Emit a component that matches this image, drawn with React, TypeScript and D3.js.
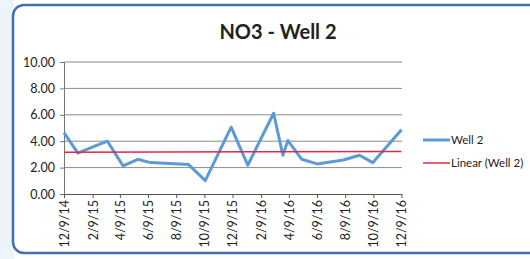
import React, { useRef, useEffect } from "react";
import * as d3 from "d3";

// sample dates and NO3 values
const sampleDates = [
  "2014-12-09", "2015-01-08", "2015-02-15", "2015-03-13", "2015-04-16",
  "2015-05-18", "2015-06-14", "2015-09-05", "2015-10-11", "2015-12-06",
  "2016-01-11", "2016-03-07", "2016-03-27", "2016-04-07", "2016-05-07",
  "2016-06-09", "2016-08-05", "2016-09-09", "2016-10-08", "2016-12-09",
];
const well2 = [
  4.65, 3.09, 3.64, 4.0, 2.13, 2.63, 2.38, 2.23, 1.01, 5.06,
  2.18, 6.12, 2.94, 4.05, 2.63, 2.28, 2.58, 2.94, 2.38, 4.86,
];
const yTicks = [0, 2, 4, 6, 8, 10];
const xTickLabels = [
  "12/9/14", "2/9/15", "4/9/15", "6/9/15", "8/9/15", "10/9/15", "12/9/15",
  "2/9/16", "4/9/16", "6/9/16", "8/9/16", "10/9/16", "12/9/16",
];
const seriesNames = ["Well 2", "Linear (Well 2)"];

const parse = d3.timeParse("%Y-%m-%d");

const App = () => {
  const svgRef = useRef<SVGSVGElement | null>(null);

  useEffect(() => {
    const width = 530;
    const height = 259;
    const font = "Lato, 'Open Sans', sans-serif";
    const svg = d3.select(svgRef.current).attr("width", width).attr("height", height);
    svg.selectAll("*").remove();

    // frame
    svg.append("rect").attr("x", 0).attr("y", 0).attr("width", 14).attr("height", height).attr("fill", "#eef4fb");
    svg.append("rect")
      .attr("x", 13).attr("y", 5).attr("width", 540).attr("height", 248)
      .attr("rx", 11)
      .attr("fill", "#fff")
      .attr("stroke", "#4471ad")
      .attr("stroke-width", 2.5);

    svg.append("text")
      .attr("x", 278).attr("y", 39)
      .attr("text-anchor", "middle")
      .attr("font-family", font)
      .attr("font-weight", "bold")
      .attr("font-size", 20)
      .attr("fill", "#222")
      .text("NO3 - Well 2");

    const start = parse("2014-12-09") as Date;
    const tickDates = xTickLabels.map((_, i) => d3.timeMonth.offset(start, i * 2));
    const x = d3.scaleTime().domain([start, tickDates[tickDates.length - 1]]).range([64, 401.5]);
    const y = d3.scaleLinear().domain([0, 10]).range([194, 62]);

    const g = svg.append("g");

    // gridlines
    g.selectAll(".grid")
      .data(yTicks.filter(d => d > 0))
      .enter()
      .append("line")
      .attr("x1", 64).attr("x2", 402)
      .attr("y1", d => y(d)).attr("y2", d => y(d))
      .attr("stroke", "#8a8a8a").attr("stroke-width", 1);

    // y axis
    const yAxis = g.append("g").attr("transform", "translate(64,0)")
      .call(d3.axisLeft(y).tickValues(yTicks).tickFormat(d3.format(".2f")).tickSize(4));
    yAxis.select(".domain").attr("stroke", "#777");
    yAxis.selectAll(".tick line").attr("stroke", "#777");
    yAxis.selectAll("text").attr("font-family", font).attr("font-size", 12.5).attr("fill", "#222").attr("dx", "-2");

    // x axis
    const xAxis = g.append("g").attr("transform", "translate(0,194)")
      .call(d3.axisBottom(x).tickValues(tickDates).tickFormat((_, i) => xTickLabels[i]).tickSize(4).tickSizeOuter(0));
    xAxis.select(".domain").attr("stroke", "#555").attr("stroke-width", 1.2);
    xAxis.selectAll(".tick line").attr("stroke", "#555");
    xAxis.selectAll("text")
      .attr("font-family", font).attr("font-size", 12.5).attr("fill", "#222")
      .attr("transform", "rotate(-90)")
      .attr("text-anchor", "end")
      .attr("x", -6).attr("y", 0).attr("dy", "0.35em");

    const pts = sampleDates.map((d, i) => ({ date: parse(d) as Date, v: well2[i] }));

    // linear trend (least squares on time)
    const xs = pts.map(p => +p.date);
    const mx = d3.mean(xs) as number;
    const my = d3.mean(well2) as number;
    const slope = d3.sum(xs, (xi, i) => (xi - mx) * (well2[i] - my)) / d3.sum(xs, xi => (xi - mx) ** 2);
    const trendAt = (t: number) => my + slope * (t - mx);
    const [d0, d1] = x.domain();

    g.append("path")
      .datum(pts)
      .attr("fill", "none")
      .attr("stroke", "#5b9bd5")
      .attr("stroke-width", 3)
      .attr("stroke-linejoin", "round")
      .attr("d", d3.line<{ date: Date; v: number }>().x(p => x(p.date)).y(p => y(p.v)));

    g.append("line")
      .attr("x1", x(d0)).attr("x2", x(d1))
      .attr("y1", y(trendAt(+d0))).attr("y2", y(trendAt(+d1)))
      .attr("stroke", "#e0284e").attr("stroke-width", 1.5);

    // legend
    const legend = svg.append("g");
    const colors = ["#5b9bd5", "#e0284e"];
    const widths = [3, 1.5];
    seriesNames.forEach((name, i) => {
      const ly = 140 + i * 23;
      legend.append("line").attr("x1", 423).attr("x2", 450).attr("y1", ly).attr("y2", ly)
        .attr("stroke", colors[i]).attr("stroke-width", widths[i]);
      legend.append("text").attr("x", 451).attr("y", ly).attr("dy", "0.35em")
        .attr("font-family", font).attr("font-size", 11.5).attr("fill", "#222").text(name);
    });
  }, []);

  return <svg ref={svgRef} style={{ position: "absolute", left: 0, top: 0 }}></svg>;
};

export default App;
